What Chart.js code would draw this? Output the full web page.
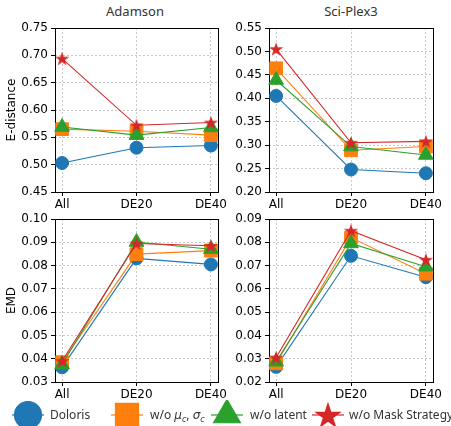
<!DOCTYPE html>
<html>
<head>
<meta charset="utf-8">
<script src="https://cdn.jsdelivr.net/npm/chart.js@4.4.1/dist/chart.umd.min.js"></script>
<style>
    body { margin: 0; background: #fff; width: 451px; height: 426px; position: relative; overflow: hidden; }
    canvas.panel { position: absolute; }
    .title { position: absolute; top: 2px; width: 164px; text-align: center;
             font: 13px "Noto Sans", sans-serif; color: #333; }
    .leg-mark { position: absolute; top: 400px; }
    .leg-text { position: absolute; top: 406px; font: 12px "Noto Sans", sans-serif; color: #333; white-space: nowrap; }
    .leg-text i { font-family: "DejaVu Sans", sans-serif; font-style: italic; }
    .leg-text sub { font-size: 8px; }
</style>
</head>
<body>
<div class="title" style="left:53px">Adamson</div>
<div class="title" style="left:269px">Sci-Plex3</div>
<canvas class="panel" id="c-adamson-ed"></canvas>
<canvas class="panel" id="c-sciplex-ed"></canvas>
<canvas class="panel" id="c-adamson-emd"></canvas>
<canvas class="panel" id="c-sciplex-emd"></canvas>
<div id="legend"></div>

<script>
// --- Data ---

const xLabels = ['All', 'DE20', 'DE40'];
const seriesNames = ['Doloris', 'w/o \u03bc_c,\u03c3_c', 'w/o latent', 'w/o Mask Strategy'];
const COLORS = ['#1f77b4', '#ff7f0e', '#2ca02c', '#d62728'];

// rows follow seriesNames order
const adamsonEDist = [
    [0.503, 0.531, 0.535],
    [0.565, 0.561, 0.554],
    [0.569, 0.554, 0.568],
    [0.694, 0.572, 0.577],
];
const sciplexEDist = [
    [0.405, 0.248, 0.240],
    [0.464, 0.289, 0.297],
    [0.439, 0.297, 0.279],
    [0.505, 0.305, 0.308],
];
const adamsonEmd = [
    [0.0363, 0.0831, 0.0805],
    [0.0385, 0.0849, 0.0864],
    [0.0376, 0.0901, 0.0870],
    [0.0390, 0.0895, 0.0885],
];
const sciplexEmd = [
    [0.0265, 0.0742, 0.0650],
    [0.0280, 0.0820, 0.0665],
    [0.0287, 0.0795, 0.0695],
    [0.0305, 0.0850, 0.0725],
];

const adamsonEDistTicks = [0.45, 0.50, 0.55, 0.60, 0.65, 0.70, 0.75];
const sciplexEDistTicks = [0.20, 0.25, 0.30, 0.35, 0.40, 0.45, 0.50, 0.55];
const adamsonEmdTicks = [0.03, 0.04, 0.05, 0.06, 0.07, 0.08, 0.09, 0.10];
const sciplexEmdTicks = [0.02, 0.03, 0.04, 0.05, 0.06, 0.07, 0.08, 0.09];

// --- Helpers ---

function makeStar(size, color) {
    const c = document.createElement('canvas');
    c.width = size; c.height = size;
    const ctx = c.getContext('2d');
    const cx = size / 2, cy = size / 2 + size * 0.04;
    const R = size / 2 - 0.5, r = R * 0.382;
    ctx.beginPath();
    for (let i = 0; i < 10; i++) {
        const rad = i % 2 === 0 ? R : r;
        const a = -Math.PI / 2 + i * Math.PI / 5;
        const px = cx + rad * Math.cos(a), py = cy + rad * Math.sin(a);
        if (i === 0) ctx.moveTo(px, py); else ctx.lineTo(px, py);
    }
    ctx.closePath();
    ctx.fillStyle = color;
    ctx.fill();
    return c;
}

const MARKERS = [
    { pointStyle: 'circle', radius: 6.5 },
    { pointStyle: 'rect', radius: 9 },
    { pointStyle: 'triangle', radius: 8.5 },
    { pointStyle: makeStar(16, COLORS[3]), radius: 8 },
];

const boxPlugin = {
    id: 'box',
    beforeDatasetsDraw(chart) {
        const a = chart.chartArea;
        const ctx = chart.ctx;
        ctx.save();
        ctx.strokeStyle = '#000';
        ctx.lineWidth = 1;
        ctx.strokeRect(Math.round(a.left) + 0.5, Math.round(a.top) + 0.5,
            Math.round(a.right - a.left), Math.round(a.bottom - a.top));
        ctx.restore();
    },
};

function makeChart(id, values, yTicks, yTitle, geo) {
    const el = document.getElementById(id);
    el.style.left = geo.left + 'px';
    el.style.top = geo.top + 'px';
    el.width = geo.width;
    el.height = geo.height;

    const datasets = values.map((row, i) => ({
        label: seriesNames[i],
        data: row.map((v, j) => ({ x: j, y: v })),
        borderColor: COLORS[i],
        backgroundColor: COLORS[i],
        borderWidth: 1.1,
        pointStyle: MARKERS[i].pointStyle,
        pointRadius: MARKERS[i].radius,
        pointBorderWidth: 1,
        pointBorderColor: COLORS[i],
        pointBackgroundColor: COLORS[i],
        order: 3 - i,
        clip: false,
        tension: 0,
    }));

    const tickFont = { family: 'DejaVu Sans', size: 12 };

    return new Chart(el, {
        type: 'line',
        data: { datasets },
        options: {
            responsive: false,
            animation: false,
            events: [],
            layout: { padding: { top: geo.padTop, right: geo.padRight, left: 0, bottom: 0 } },
            plugins: { legend: { display: false }, tooltip: { enabled: false } },
            scales: {
                x: {
                    type: 'linear',
                    min: -0.095,
                    max: 2.095,
                    afterBuildTicks: s => { s.ticks = xLabels.map((_, i) => ({ value: i })); },
                    afterFit: s => { s.height = geo.xHeight; },
                    ticks: {
                        callback: v => xLabels[v],
                        color: '#000',
                        font: tickFont,
                        padding: 2,
                        maxRotation: 0,
                        autoSkip: false,
                    },
                    grid: { color: '#c8c8c8', tickColor: '#000', tickLength: 4, tickBorderDash: [] },
                    border: { display: false, dash: [2, 2] },
                },
                y: {
                    type: 'linear',
                    min: yTicks[0],
                    max: yTicks[yTicks.length - 1],
                    afterBuildTicks: s => { s.ticks = yTicks.map(v => ({ value: v })); },
                    afterFit: s => { s.width = geo.yWidth; },
                    ticks: {
                        callback: v => v.toFixed(2),
                        color: '#000',
                        font: tickFont,
                        padding: 3,
                    },
                    title: {
                        display: !!yTitle,
                        text: yTitle,
                        color: '#000',
                        font: { family: 'DejaVu Sans', size: 12 },
                        padding: { top: 5, bottom: 0 },
                    },
                    grid: { color: '#c8c8c8', tickColor: '#000', tickLength: 4, tickBorderDash: [] },
                    border: { display: false, dash: [2, 2] },
                },
            },
        },
        plugins: [boxPlugin],
    });
}

// --- Render ---

makeChart('c-adamson-ed', adamsonEDist, adamsonEDistTicks, 'E-distance',
    { left: 0, top: 0, width: 240, height: 215, padTop: 28, padRight: 22, yWidth: 55, xHeight: 23 });
makeChart('c-sciplex-ed', sciplexEDist, sciplexEDistTicks, '',
    { left: 215, top: 0, width: 236, height: 215, padTop: 28, padRight: 18, yWidth: 54, xHeight: 23 });
makeChart('c-adamson-emd', adamsonEmd, adamsonEmdTicks, 'EMD',
    { left: 0, top: 195, width: 240, height: 210, padTop: 24, padRight: 22, yWidth: 55, xHeight: 23 });
makeChart('c-sciplex-emd', sciplexEmd, sciplexEmdTicks, '',
    { left: 215, top: 195, width: 236, height: 210, padTop: 24, padRight: 18, yWidth: 54, xHeight: 23 });

// --- Legend ---

const legendMarkX = [28, 127, 227, 328];
const legendTextX = [50, 150, 250, 349];
const legendMarks = [
    { pointStyle: 'circle', radius: 13.5 },
    { pointStyle: 'rect', radius: 16.3 },
    { pointStyle: 'triangle', radius: 15.5 },
    { pointStyle: makeStar(30, COLORS[3]), radius: 15 },
];
const legendHtml = [
    'Doloris',
    'w/o <i>\u03bc<sub>c</sub></i>, <i>\u03c3<sub>c</sub></i>',
    'w/o latent',
    'w/o Mask Strategy',
];

const legend = document.getElementById('legend');
seriesNames.forEach((name, i) => {
    const c = document.createElement('canvas');
    c.className = 'leg-mark';
    c.width = 40; c.height = 30;
    c.style.left = (legendMarkX[i] - 20) + 'px';
    const ctx = c.getContext('2d');
    ctx.strokeStyle = COLORS[i];
    ctx.fillStyle = COLORS[i];
    ctx.lineWidth = 1.2;
    ctx.beginPath();
    ctx.moveTo(4, 15); ctx.lineTo(36, 15);
    ctx.stroke();
    Chart.helpers.drawPoint(ctx, {
        pointStyle: legendMarks[i].pointStyle,
        radius: legendMarks[i].radius,
        rotation: 0,
        borderWidth: 1,
    }, 20, 15);
    legend.appendChild(c);

    const t = document.createElement('span');
    t.className = 'leg-text';
    t.style.left = legendTextX[i] + 'px';
    t.innerHTML = legendHtml[i];
    legend.appendChild(t);
});
</script>
</body>
</html>
